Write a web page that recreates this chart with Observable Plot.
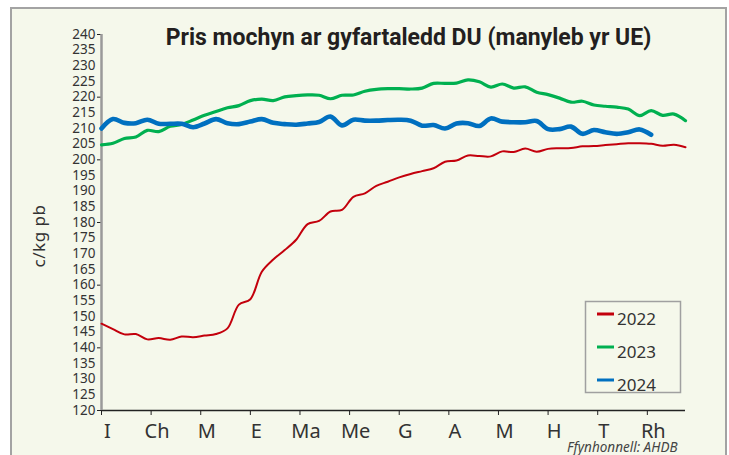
<!DOCTYPE html>
<html>
<head>
<meta charset="utf-8">
<script src="https://cdn.jsdelivr.net/npm/d3@7"></script>
<script src="https://cdn.jsdelivr.net/npm/@observablehq/plot@0.6"></script>
<style>
  html, body { margin: 0; padding: 0; background: #ffffff; width: 729px; height: 455px; overflow: hidden; }
  #wrap { position: relative; width: 729px; height: 455px; }
  #frame { position: absolute; left: 10px; top: 7px; width: 717px; height: 470px; box-sizing: border-box;
           border: 2.5px solid #a3a3a3; background: #f5f8eb; }
  #chart { position: absolute; left: 0; top: 0; }
  #legend { position: absolute; left: 0; top: 0; pointer-events: none; }
</style>
</head>
<body>
<div id="wrap">
  <div id="frame"></div>
  <div id="chart"></div>
  <svg id="legend" width="729" height="455"></svg>
</div>
<script>
// ---- data (weekly average UK pig price, c/kg deadweight) ----
const title = "Pris mochyn ar gyfartaledd DU (manyleb yr UE)";
const yLabel = "c/kg pb";
const source = "Ffynhonnell: AHDB";
const months = ["I", "Ch", "M", "E", "Ma", "Me", "G", "A", "M", "H", "T", "Rh"];
const years = ["2022", "2023", "2024"];
const colors = ["#c3000c", "#00b050", "#0070c0"];
const widths = [2, 3.2, 4.6];

const y2022 = [147.7, 146.0, 144.3, 144.4, 142.7, 143.1, 142.6, 143.6, 143.4, 143.9,
               144.4, 146.2, 153.8, 155.5, 164.3, 168.2, 171.2, 174.5, 179.5, 180.5,
               183.5, 184.0, 188.2, 189.3, 191.7, 193.0, 194.4, 195.5, 196.4, 197.3,
               199.4, 199.8, 201.4, 201.2, 201.1, 202.7, 202.5, 203.6, 202.6, 203.5,
               203.7, 203.8, 204.3, 204.4, 204.7, 205.0, 205.3, 205.3, 205.1, 204.5,
               204.8, 204.0];
const y2023 = [204.8, 205.3, 206.8, 207.3, 209.4, 209.0, 210.7, 211.3, 212.7, 214.2,
               215.4, 216.6, 217.3, 218.9, 219.4, 218.9, 220.1, 220.5, 220.7, 220.6,
               219.5, 220.6, 220.7, 221.9, 222.5, 222.7, 222.7, 222.6, 222.9, 224.4,
               224.4, 224.5, 225.5, 224.9, 223.2, 224.2, 222.9, 223.3, 221.6, 220.8,
               219.7, 218.4, 218.7, 217.5, 217.1, 216.8, 216.2, 214.1, 215.7, 214.2,
               214.6, 212.5];
const y2024 = [210.0, 213.0, 211.8, 211.7, 212.8, 211.5, 211.5, 211.5, 210.4, 211.6,
               213.0, 211.7, 211.4, 212.2, 213.0, 211.8, 211.4, 211.2, 211.6, 212.1,
               213.8, 211.0, 212.8, 212.5, 212.5, 212.7, 212.8, 212.5, 210.9, 211.1,
               210.0, 211.6, 211.7, 210.8, 213.2, 212.2, 212.0, 212.0, 212.4, 209.8,
               209.8, 210.6, 208.3, 209.5, 208.8, 208.3, 208.8, 209.7, 208.0];

const yTickLabels = d3.range(120, 241, 5);
const yTickMarks = d3.range(120, 241, 20);

// ---- derived tables ----
const series = [y2022, y2023, y2024].map((vals, k) =>
  vals.map((v, i) => ({week: i + 1, value: v, year: years[k]})));
const monthTicks = months.map((m, i) => 1 + i * 52 / 12);
const monthRows = months.map((m, i) => ({label: m, week: monthTicks[i]}));

const lineMarks = series.map((rows, k) =>
  Plot.line(rows, {x: "week", y: "value", stroke: colors[k], strokeWidth: widths[k],
                   curve: "catmull-rom", strokeLinejoin: "round", strokeLinecap: "round"}));

const chart = Plot.plot({
  width: 729,
  height: 455,
  marginLeft: 101,
  marginRight: 44,
  marginTop: 34,
  marginBottom: 45,
  style: {background: "transparent", fontFamily: "'Noto Sans', sans-serif", color: "#333"},
  x: {domain: [1, 52], axis: null},
  y: {domain: [120, 240], axis: null},
  marks: [
    // y axis labels (every 5) and tick marks (every 20)
    Plot.axisY({ticks: yTickLabels, tickSize: 0, tickPadding: 6, fontSize: 13.5, label: null,
                fill: "#333", tickFormat: d => String(d), letterSpacing: 0.4}),
    Plot.axisY({ticks: yTickMarks, tickSize: 4, tickFormat: () => "", label: null, stroke: "#222"}),
    // x axis ticks
    Plot.axisX({ticks: monthTicks, tickSize: 5, tickFormat: () => "", label: null, stroke: "#222"}),
    // month labels
    Plot.text(monthRows, {x: "week", y: () => 120, text: "label", dx: 6, dy: 13,
                          lineAnchor: "top", fontSize: 20, fill: "#333"}),
    // axis lines
    Plot.ruleY([120], {stroke: "#222", strokeWidth: 1.5}),
    Plot.ruleX([1], {stroke: "#9a9a9a", strokeWidth: 2.5}),
    ...lineMarks,
    // title
    Plot.text([title], {frameAnchor: "top", dx: 15, dy: 10, lineAnchor: "bottom",
                        fontSize: 23, fontWeight: "bold", fill: "#231f20", letterSpacing: 0.65,
                        fontFamily: "Roboto, sans-serif"}),
    // source
    Plot.text([source], {frameAnchor: "bottom-right", dx: -8, dy: 41, lineAnchor: "bottom",
                         textAnchor: "end", fontSize: 13.5, fontStyle: "italic", fill: "#444"})
  ]
});
document.getElementById("chart").appendChild(chart);

// ---- overlay: y-axis title and legend ----
const lg = d3.select("#legend");
lg.append("text").attr("transform", "translate(45,236) rotate(-90)")
  .attr("text-anchor", "middle").attr("font-family", "'Noto Sans', sans-serif")
  .attr("font-size", 17).attr("letter-spacing", 0.5).attr("fill", "#333").text(yLabel);

lg.append("rect").attr("x", 585.5).attr("y", 301.5).attr("width", 95).attr("height", 91)
  .attr("fill", "none").attr("stroke", "#a0a0a0").attr("stroke-width", 1.5);
years.forEach((yr, i) => {
  const cy = 314 + i * 33;
  lg.append("line").attr("x1", 597).attr("x2", 614).attr("y1", cy).attr("y2", cy)
    .attr("stroke", colors[i]).attr("stroke-width", 3);
  lg.append("text").attr("x", 617).attr("y", cy + 11).text(yr)
    .attr("font-family", "'Noto Sans', sans-serif").attr("font-size", 17).attr("fill", "#333");
});
</script>
</body>
</html>
